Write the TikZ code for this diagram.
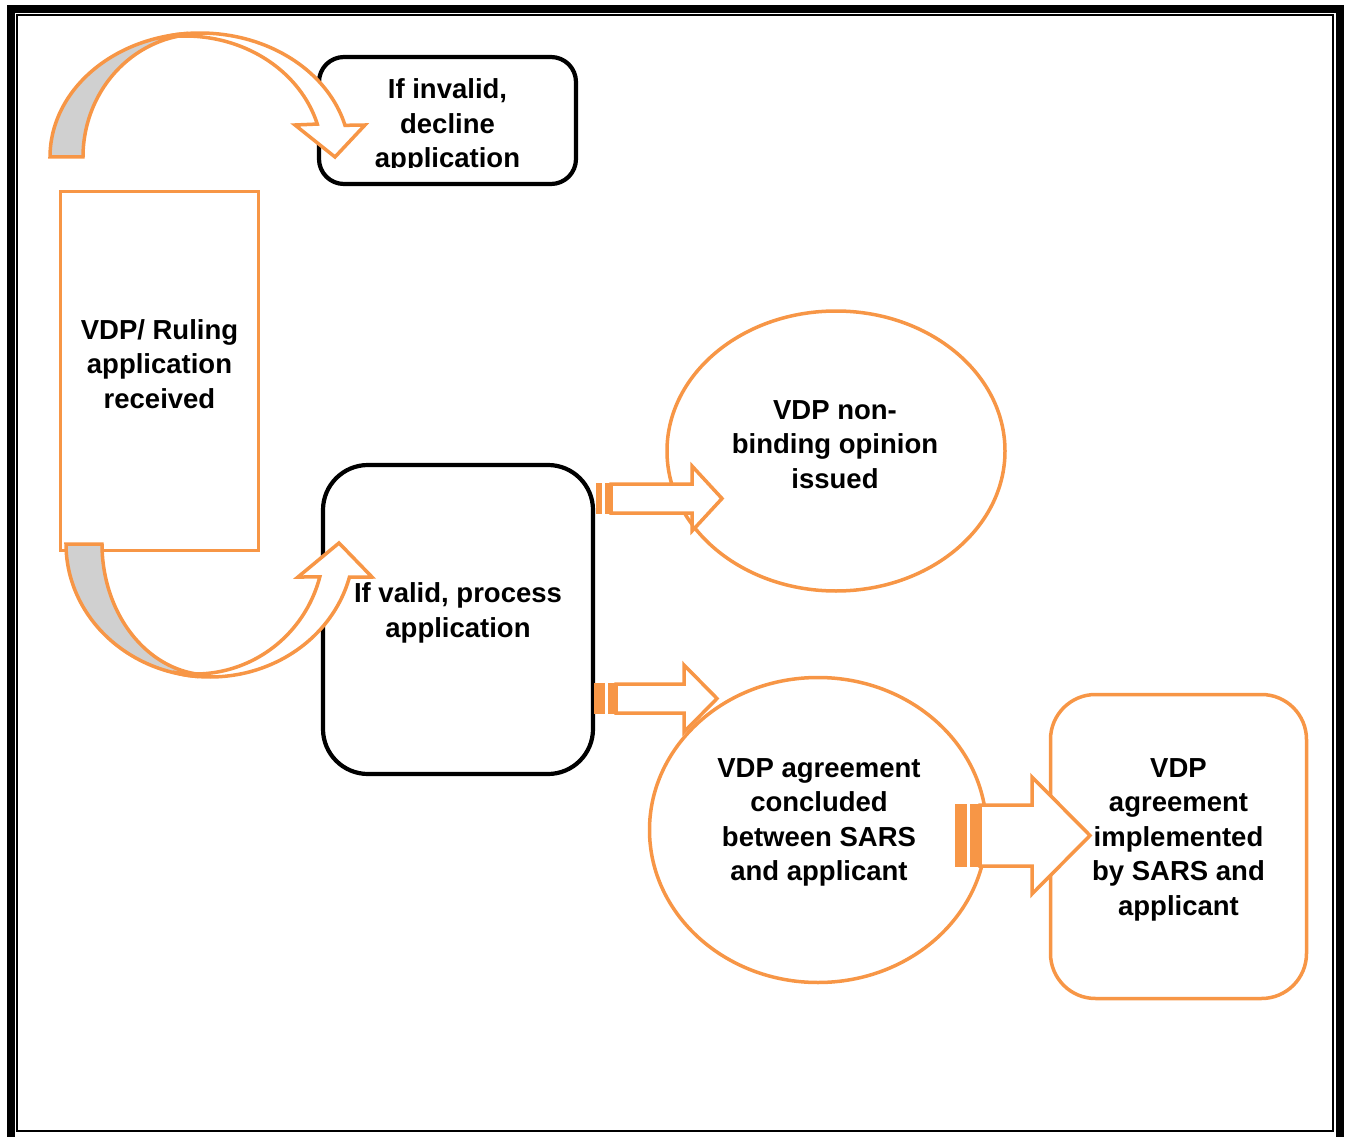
\documentclass[tikz,border=0pt]{standalone}
\usepackage{fontspec}
\setmainfont{Liberation Sans}
\usetikzlibrary{shapes.geometric}
\definecolor{org}{HTML}{F79646}
\definecolor{gry}{HTML}{D0D0D0}
\begin{document}
\begin{tikzpicture}[x=1pt,y=-1pt,
  txt/.style={font=\fontsize{27.5}{34.5}\selectfont\bfseries, align=center, inner sep=0pt},
  blackbox/.style={draw=black, line width=4.2pt, fill=white, rounded corners=#1, inner sep=0pt},
  orangebox/.style={draw=org, line width=3.5pt, fill=white, inner sep=0pt},
  orangeell/.style={ellipse, draw=org, line width=3.5pt, fill=white, inner sep=0pt},
  band/.style={draw=org, line width=3.5pt, line join=miter},
  blockarrow/.style={draw=org, line width=3.5pt, fill=white, line join=miter},
  stripe/.style={fill=org}]
\useasboundingbox (0,0) rectangle (1350,1137);
% page border
\draw[line width=8pt] (11,9) rectangle (1339.5,1141);
\draw[line width=2pt] (17,15) rectangle (1333,1131);

% shapes
\node[blackbox=25pt, minimum width=257pt, minimum height=127pt] (inv) at (447.5,120.5) {};
\node[orangebox, minimum width=198pt, minimum height=359pt] (rec) at (159.5,371) {};
\node[blackbox=45pt, minimum width=270pt, minimum height=309pt] (val) at (458,619.5) {};
\node[orangeell, minimum width=338pt, minimum height=280pt] (opi) at (836,451) {};
\node[orangeell, minimum width=337pt, minimum height=305pt] (agr) at (818,830) {};
\node[orangebox, rounded corners=45pt, minimum width=256pt, minimum height=304pt] (imp) at (1178.5,846.5) {};

% curved arrow (top): grey back band, then white front band with head
\draw[band, fill=gry] (50,157)
  -- plot[domain=-180:-95, samples=50] ({200+150*cos(\x)},{157+124*sin(\x)})
  -- plot[domain=-95:-180, samples=50] ({200+117*cos(\x)},{157+123*sin(\x)})
  -- cycle;
\draw[band, fill=white]
  plot[domain=-100:-14.8, samples=60] ({200+150*cos(\x)},{157+124*sin(\x)})
  -- (365,125) -- (335,157) -- (295,125)
  -- plot[domain=-15.8:-100, samples=60] ({185+137.5*cos(\x)},{157+121*sin(\x)})
  -- cycle;

% curved arrow (bottom)
\draw[band, fill=gry] (66,544)
  -- plot[domain=180:95, samples=50] ({210+144*cos(\x)},{544+133*sin(\x)})
  -- plot[domain=95:180, samples=50] ({210+108*cos(\x)},{544+131*sin(\x)})
  -- cycle;
\draw[band, fill=white]
  plot[domain=100:14.4, samples=60] ({210+144*cos(\x)},{544+133*sin(\x)})
  -- (372,577) -- (339,543) -- (298,577)
  -- plot[domain=14.7:100, samples=60] ({195+129*cos(\x)},{544+130*sin(\x)})
  -- cycle;

% striped arrows
\fill[stripe] (596,483) rectangle (602,514);
\fill[stripe] (604.5,483) rectangle (611,514);
\draw[blockarrow] (611,484) -- (692,484) -- (692,466) -- (722,498.5) -- (692,531) -- (692,513) -- (611,513) -- cycle;

\fill[stripe] (594,683) rectangle (605,714);
\fill[stripe] (607.5,683) rectangle (616,714);
\draw[blockarrow] (616,684) -- (684,684) -- (684,665) -- (717,698.5) -- (684,732) -- (684,713) -- (616,713) -- cycle;

\fill[stripe] (955,804) rectangle (967,867);
\fill[stripe] (970,804) rectangle (980,867);
\draw[blockarrow] (980,805) -- (1032,805) -- (1032,777) -- (1090,835.5) -- (1032,894) -- (1032,866) -- (980,866) -- cycle;

% texts
\begin{scope}
  \clip (320,58) rectangle (575,168);
  \node[txt] (tinv) at (447.5,126) {If invalid,\\decline\\application};
\end{scope}
\node[txt] (trec) at (159.5,364) {VDP/ Ruling\\application\\received};
\node[txt] (tval) at (458,613) {If valid, process\\application};
\node[txt] (topi) at (835,444.5) {VDP non-\\binding opinion\\issued};
\node[txt] (tagr) at (819,822.5) {VDP agreement\\concluded\\between SARS\\and applicant};
\node[txt] (timp) at (1178.5,839.5) {VDP\\agreement\\implemented\\by SARS and\\applicant};
\end{tikzpicture}
\end{document}
